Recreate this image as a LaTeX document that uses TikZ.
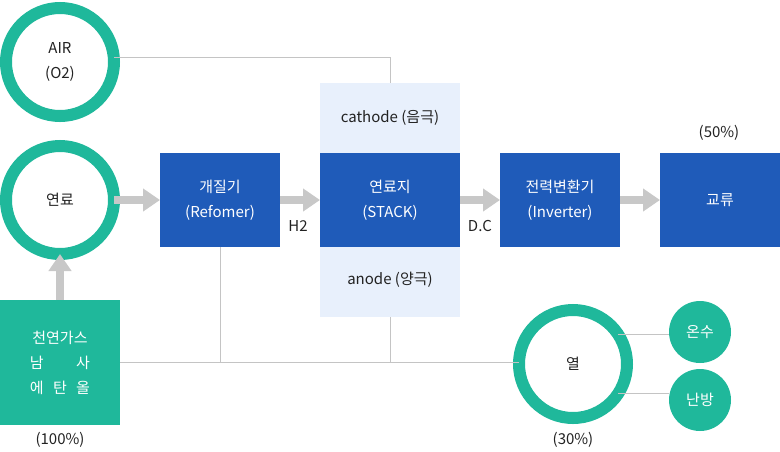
\documentclass[tikz,border=0pt]{standalone}
\usepackage{fontspec}
\setmainfont{Noto Sans CJK KR}
\usetikzlibrary{arrows.meta}
\definecolor{bluebox}{HTML}{1F5BB9}
\definecolor{ringgreen}{HTML}{1FB89B}
\definecolor{lightbg}{HTML}{E8F0FC}
\definecolor{arrowgray}{HTML}{C8C8C8}
\definecolor{thinline}{HTML}{C4C4C4}
\definecolor{txt}{HTML}{222222}
\tikzset{
  base/.style={font=\fontsize{15}{25}\selectfont, align=center, text=txt, inner sep=0pt, outer sep=0pt},
  ring/.style={base, circle, draw=ringgreen, line width=12pt, minimum size=108pt, fill=white},
  smallcirc/.style={base, circle, fill=ringgreen, text=white, minimum size=62pt},
  bluebox/.style={base, fill=bluebox, text=white, minimum width=120pt, minimum height=94pt},
  bigarrow/.style={draw=arrowgray, line width=8pt, -{Triangle[length=17pt,width=22pt]}},
  thin/.style={draw=thinline, line width=1pt},
  lbl/.style={base}
}
\begin{document}
\begin{tikzpicture}[x=1pt,y=-1pt]
\useasboundingbox (0,0) rectangle (780,451);
% light background of stack
\node[base, fill=lightbg, minimum width=140pt, minimum height=234pt] (stackbg) at (390,200) {};
\node[lbl] (cathode) at (390,118) {cathode (음극)};
\node[lbl] (anode) at (390,280) {anode (양극)};
% circles
\node[ring] (air) at (60,62) {AIR\\(O2)};
\node[ring] (fuel) at (60,200) {연료};
% gas box
\node[base, fill=ringgreen, text=white, minimum width=120pt, minimum height=125pt] (gas) at (60,362.5)
  {천연가스\\\makebox[4em][s]{남\hfill 사}\\\makebox[4em][s]{에\hfill 탄\hfill 올}};
\node[lbl] (p100) at (60,440) {(100\%)};
% blue boxes
\node[bluebox] (reformer) at (220,200) {개질기\\(Refomer)};
\node[bluebox, minimum width=140pt] (stack) at (390,200) {연료지\\(STACK)};
\node[bluebox] (inverter) at (560,200) {전력변환기\\(Inverter)};
\node[bluebox] (ac) at (720,200) {교류};
\node[lbl] (p50) at (719,133) {(50\%)};
\node[lbl] (h2) at (298,226) {H2};
\node[lbl] (dc) at (480,226) {D.C};
% heat
\node[ring] (heat) at (573,364) {열};
\node[lbl] (p30) at (573,440) {(30\%)};
\node[smallcirc] (onsu) at (700,332) {온수};
\node[smallcirc] (nanbang) at (700,400) {난방};
% thin connectors
\coordinate (airturn) at (390,57);
\draw[thin] (air.east |- airturn) -- (airturn) -- (stackbg.north);
\draw[thin] (gas.east |- 0,362) -- (heat.west |- 0,362);
\draw[thin] (reformer.south) -- (reformer.south |- 0,362);
\draw[thin] (stackbg.south) -- (stackbg.south |- 0,362);
\draw[thin] (heat.33) -- (heat.33 -| onsu.west);
\draw[thin] (heat.-33) -- (heat.-33 -| nanbang.west);
% big arrows
\draw[bigarrow] (fuel.east) -- (reformer.west);
\draw[bigarrow] (reformer.east) -- (stack.west);
\draw[bigarrow] (stack.east) -- (inverter.west);
\draw[bigarrow] (inverter.east) -- (ac.west);
\draw[bigarrow] (gas.north) -- (fuel.south);
\end{tikzpicture}
\end{document}
